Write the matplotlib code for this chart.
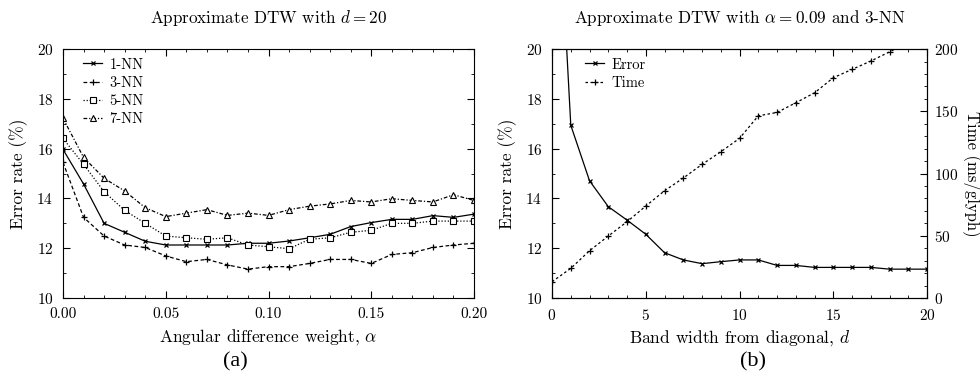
import matplotlib
matplotlib.use("Agg")
import matplotlib.pyplot as plt
from matplotlib.ticker import MultipleLocator, FormatStrFormatter

plt.rcParams['font.family'] = ['cmr10', 'DejaVu Serif']
plt.rcParams['mathtext.fontset'] = 'cm'
plt.rcParams['axes.formatter.use_mathtext'] = True

# (a) error rate vs angular difference weight, d = 20
alpha = [0.00, 0.01, 0.02, 0.03, 0.04, 0.05, 0.06, 0.07, 0.08, 0.09, 0.10,
         0.11, 0.12, 0.13, 0.14, 0.15, 0.16, 0.17, 0.18, 0.19, 0.20]
nn1 = [15.97, 14.58, 13.00, 12.64, 12.28, 12.13, 12.13, 12.13, 12.13, 12.20, 12.20,
       12.29, 12.42, 12.56, 12.87, 13.03, 13.16, 13.16, 13.31, 13.24, 13.37]
nn3 = [15.45, 13.24, 12.49, 12.13, 12.03, 11.69, 11.46, 11.55, 11.33, 11.16, 11.26,
       11.26, 11.39, 11.55, 11.55, 11.39, 11.75, 11.82, 12.03, 12.13, 12.20]
nn5 = [16.41, 15.37, 14.27, 13.52, 13.00, 12.49, 12.42, 12.36, 12.42, 12.13, 12.06,
       11.98, 12.36, 12.42, 12.64, 12.72, 13.00, 13.00, 13.09, 13.09, 13.09]
nn7 = [17.22, 15.65, 14.81, 14.30, 13.63, 13.27, 13.41, 13.55, 13.32, 13.41, 13.32,
       13.55, 13.69, 13.78, 13.92, 13.86, 13.99, 13.92, 13.86, 14.15, 13.92]

# (b) error and time vs band width, alpha = 0.09, 3-NN
band = list(range(21))
err = [31.0, 16.94, 14.71, 13.67, 13.13, 12.56, 11.82, 11.53, 11.38, 11.46, 11.53,
       11.53, 11.31, 11.31, 11.23, 11.23, 11.23, 11.23, 11.16, 11.16, 11.16]
tms = [13.1, 23.8, 38.0, 49.8, 61.3, 73.9, 86.2, 96.4, 107.4, 117.5, 128.3,
       146.4, 149.1, 156.9, 164.9, 177.0, 183.7, 190.4, 197.8, 205.0, 212.0]

fig = plt.figure(figsize=(9.8, 3.76), dpi=100)
ax1 = fig.add_axes([0.0643, 0.2074, 0.4194, 0.662])
ax2 = fig.add_axes([0.5633, 0.2074, 0.3827, 0.662])

lw = 0.9
ax1.plot(alpha, nn1, color='black', lw=lw, ls='-', marker='x', ms=3, mew=0.9, label='1-NN')
ax1.plot(alpha, nn3, color='black', lw=lw, ls=(0, (3, 2)), marker='+', ms=5, mew=0.9, label='3-NN')
ax1.plot(alpha, nn5, color='black', lw=lw, ls=(0, (1, 1.5)), marker='s', ms=4, mew=0.8,
         mfc='white', label='5-NN')
ax1.plot(alpha, nn7, color='black', lw=lw, ls=(0, (3, 1.5, 1, 1.5)), marker='^', ms=5, mew=0.8,
         mfc='white', label='7-NN')

ax1.set_xlim(0, 0.2)
ax1.set_ylim(10, 20)
ax1.xaxis.set_major_locator(MultipleLocator(0.05))
ax1.xaxis.set_minor_locator(MultipleLocator(0.01))
ax1.xaxis.set_major_formatter(FormatStrFormatter('%.2f'))
ax1.yaxis.set_major_locator(MultipleLocator(2))
ax1.yaxis.set_minor_locator(MultipleLocator(1))
ax1.set_title(r'Approximate DTW with $d = 20$', fontsize=12.3, pad=19)
ax1.set_xlabel(r'Angular difference weight, $\alpha$', fontsize=12.5, labelpad=4)
ax1.set_ylabel('Error rate (%)', fontsize=12.5, labelpad=6)
ax1.legend(loc='upper left', frameon=False, fontsize=10.5, handlelength=1.3,
           handletextpad=0.5, borderaxespad=0, borderpad=0, labelspacing=0.3,
           bbox_to_anchor=(0.049, 0.965))

ax2.plot(band, err, color='black', lw=lw, ls='-', marker='x', ms=3, mew=0.9, label='Error')
ax2.set_xlim(0, 20)
ax2.set_ylim(10, 20)
ax2.xaxis.set_major_locator(MultipleLocator(5))
ax2.xaxis.set_minor_locator(MultipleLocator(1))
ax2.yaxis.set_major_locator(MultipleLocator(2))
ax2.yaxis.set_minor_locator(MultipleLocator(1))
ax2.set_title(r'Approximate DTW with $\alpha = 0.09$ and 3-NN', fontsize=12.3, pad=19)
ax2.set_xlabel(r'Band width from diagonal, $d$', fontsize=12.5, labelpad=4)
ax2.set_ylabel('Error rate (%)', fontsize=12.5, labelpad=6)

ax3 = ax2.twinx()
ax3.plot(band, tms, color='black', lw=lw, ls=(0, (2, 2)), marker='+', ms=5, mew=0.9, label='Time')
ax3.set_ylim(0, 200)
ax3.yaxis.set_major_locator(MultipleLocator(50))
ax3.yaxis.set_minor_locator(MultipleLocator(10))
ax3.set_ylabel('Time (ms/glyph)', fontsize=12, rotation=270, va='bottom', labelpad=3)

h1, l1 = ax2.get_legend_handles_labels()
h2, l2 = ax3.get_legend_handles_labels()
ax3.legend(h1 + h2, l1 + l2, loc='upper left', frameon=False, fontsize=10.5, handlelength=1.3,
           handletextpad=0.5, borderaxespad=0, borderpad=0, labelspacing=0.3,
           bbox_to_anchor=(0.088, 0.965))

for a in (ax1, ax2):
    a.tick_params(which='both', direction='in', top=True, right=(a is ax1), labelsize=11, pad=7)
    a.tick_params(which='major', length=5, width=0.8)
    a.tick_params(which='minor', length=2.5, width=0.6)
ax3.tick_params(which='both', direction='in', labelsize=11, pad=5)
ax3.tick_params(which='major', length=5, width=0.8)
ax3.tick_params(which='minor', length=2.5, width=0.6)

fig.text(0.240, 0.025, '(a)', fontsize=16, family='Liberation Serif', ha='center')
fig.text(0.768, 0.025, '(b)', fontsize=16, family='Liberation Serif', ha='center')

fig.savefig('out.png', dpi=100)
